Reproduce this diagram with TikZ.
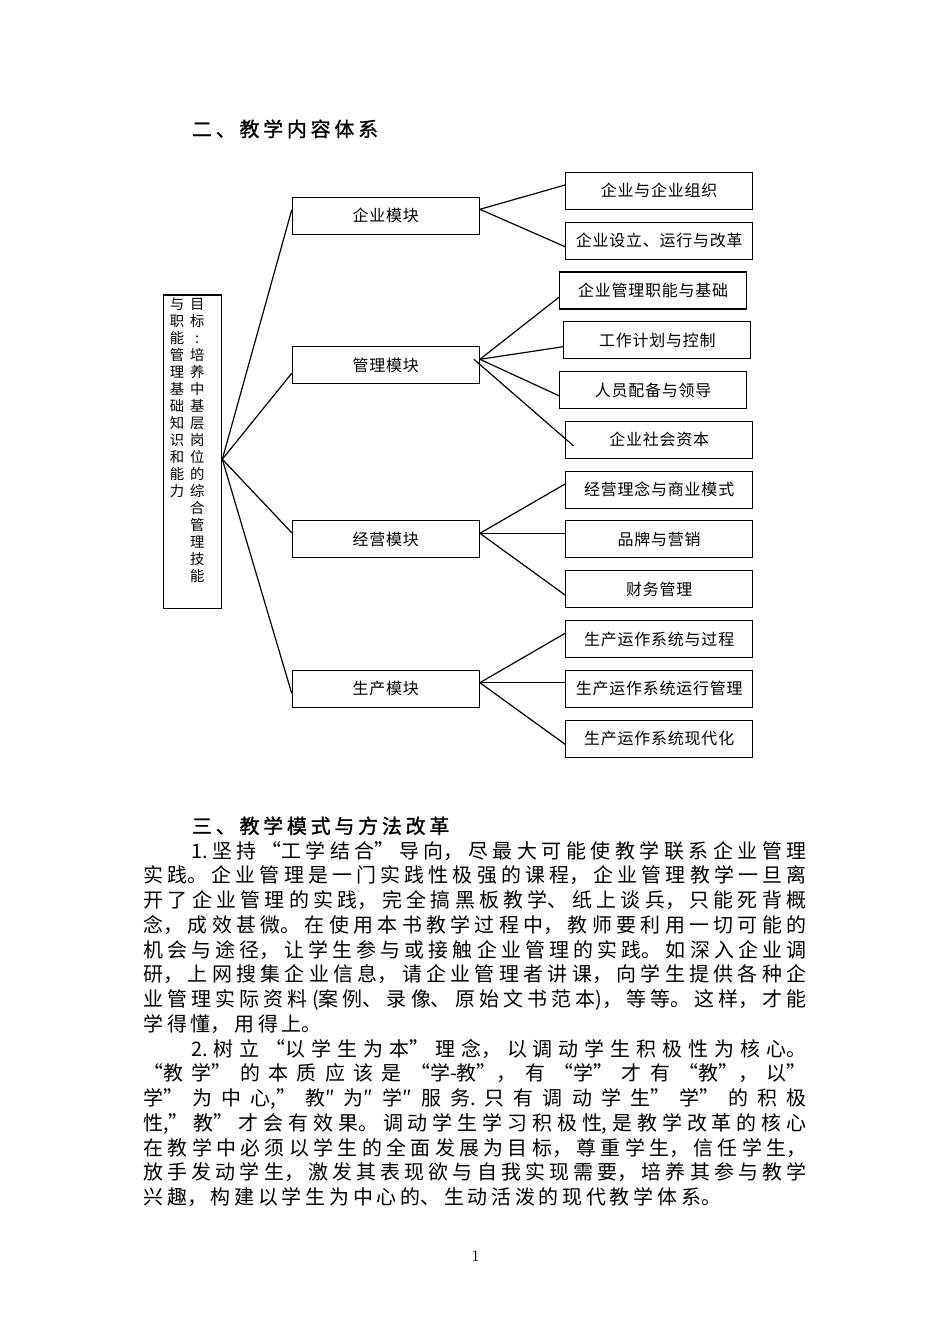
\documentclass[tikz,border=0pt]{standalone}
\usepackage{fontspec}
\newfontfamily\cjk{Noto Sans CJK SC}
\newfontfamily\cjkhead[LetterSpace=19,FakeBold=1.2]{Noto Sans CJK SC}
\newfontfamily\cjkbox[LetterSpace=5]{Noto Sans CJK SC}
\newlength{\px}\setlength{\px}{0.62661pt}
\tikzset{
  box/.style={draw, line width=0.75pt, minimum width=187\px, minimum height=37\px,
    inner sep=0pt, font=\cjkbox\fontsize{10pt}{12pt}\selectfont},
  link/.style={line width=0.75pt},
  plain/.style={inner sep=0pt, outer sep=0pt},
  headtext/.style={inner sep=0pt, outer sep=0pt, anchor=base west,
    font=\cjkhead\fontsize{12.5pt}{15pt}\selectfont},
}
\begin{document}
\begin{tikzpicture}[x=\px, y=-\px]
\path[fill=white, use as bounding box] (0,0) rectangle (950,1344);

% heading 二
\node[headtext] (h2) at (192,136.5) {二、教学内容体系};

% goal box
\node[draw, line width=0.75pt, minimum width=58.4\px, minimum height=313.3\px, inner sep=0pt]
  (goal) at (192.5,451.65) {};
\node[plain, anchor=base] (goalR) at (197.2,309.2)
  {\parbox[t]{20\px}{\centering\cjk\fontsize{9pt}{10.652pt}\selectfont
   目\\标\\:\\培\\养\\中\\基\\层\\岗\\位\\的\\综\\合\\管\\理\\技\\能}};
\node[plain, anchor=base] (goalL) at (177,309.2)
  {\parbox[t]{20\px}{\centering\cjk\fontsize{9pt}{10.652pt}\selectfont
   与\\职\\能\\管\\理\\基\\础\\知\\识\\和\\能\\力}};

% modules
\node[box] (qy) at (385.8,215.8) {企业模块};
\node[box] (gl) at (385.8,365.2) {管理模块};
\node[box] (jy) at (385.8,539.3) {经营模块};
\node[box] (sc) at (385.8,688.7) {生产模块};

% leaves
\node[box] (a1) at (659.2,190.8) {企业与企业组织};
\node[box] (a2) at (659.2,240.8) {企业设立、运行与改革};
\node[box] (b1) at (653.0,290.5) {企业管理职能与基础};
\node[box] (b2) at (657.3,340.3) {工作计划与控制};
\node[box] (b3) at (653.0,390.2) {人员配备与领导};
\node[box] (b4) at (659.2,439.6) {企业社会资本};
\node[box] (c1) at (659.2,489.7) {经营理念与商业模式};
\node[box] (c2) at (659.2,539.3) {品牌与营销};
\node[box] (c3) at (659.2,589.0) {财务管理};
\node[box] (d1) at (659.2,639.0) {生产运作系统与过程};
\node[box] (d2) at (659.2,688.7) {生产运作系统运行管理};
\node[box] (d3) at (659.2,738.7) {生产运作系统现代化};

% connectors from goal
\draw[link] ([yshift=-7.6\px]goal.east) -- ([yshift=5.8\px]qy.west);
\draw[link] ([yshift=-7.6\px]goal.east) -- ([yshift=-8.1\px]gl.west);
\draw[link] ([yshift=-7.6\px]goal.east) -- ([yshift=6.6\px]jy.west);
\draw[link] ([yshift=-7.6\px]goal.east) -- ([yshift=-4.6\px]sc.west);

% module -> leaves
\draw[link] ([yshift=6.5\px]qy.east) -- ([yshift=5.8\px]a1.west);
\draw[link] ([yshift=6.5\px]qy.east) -- ([yshift=-5.9\px]a2.west);

\draw[link] ([yshift=5.9\px]gl.east) -- ([yshift=-6.8\px]b1.west);
\draw[link] ([yshift=5.9\px]gl.east) -- ([yshift=-6.4\px]b2.west);
\draw[link] ([yshift=5.9\px]gl.east) -- ([yshift=-5.5\px]b3.west);
\draw[link] ([xshift=-6\px,yshift=5.9\px]gl.east) -- ([xshift=8.6\px,yshift=-6.4\px]b4.west);

\draw[link] ([yshift=6\px]jy.east) -- ([yshift=5.7\px]c1.west);
\draw[link] ([yshift=6\px]jy.east) -- ([yshift=6\px]c2.west);
\draw[link] ([yshift=6\px]jy.east) -- ([yshift=-6\px]c3.west);

\draw[link] ([yshift=6\px]sc.east) -- ([yshift=5.7\px]d1.west);
\draw[link] ([yshift=6\px]sc.east) -- ([yshift=6\px]d2.west);
\draw[link] ([yshift=6\px]sc.east) -- ([yshift=-5.6\px]d3.west);

% heading 三
\node[headtext] (h3) at (192,833.4) {三、教学模式与方法改革};

% body text
\node[plain, anchor=base west] (body) at (143.5,858.15)
{\parbox[t]{663\px}{\cjk\fontsize{12.5pt}{15.509pt}\selectfont
\XeTeXlinebreaklocale "zh"\XeTeXlinebreakskip=2.35pt plus 1fil\relax
\parfillskip=0pt plus 1fill\relax\parindent=0pt\relax
\noindent\hspace*{47.5\px}1.坚持“工学结合”导向，尽最大可能使教学联系企业管理\linebreak
实践。企业管理是一门实践性极强的课程，企业管理教学一旦离\linebreak
开了企业管理的实践，完全搞黑板教学、纸上谈兵，只能死背概\linebreak
念，成效甚微。在使用本书教学过程中，教师要利用一切可能的\linebreak
机会与途径，让学生参与或接触企业管理的实践。如深入企业调\linebreak
研，上网搜集企业信息，请企业管理者讲课，向学生提供各种企\linebreak
业管理实际资料(案例、录像、原始文书范本)，等等。这样，才能\linebreak
学得懂，用得上。\par
\noindent\hspace*{47.5\px}2.树立“以学生为本”理念，以调动学生积极性为核心。\linebreak
“教学”的本质应该是“学-教”，有“学”才有“教”，以”\linebreak
学”为中心,”教″为″学″服务.只有调动学生”学”的积极\linebreak
性,”教”才会有效果。调动学生学习积极性,是教学改革的核心\linebreak
在教学中必须以学生的全面发展为目标，尊重学生，信任学生，\linebreak
放手发动学生，激发其表现欲与自我实现需要，培养其参与教学\linebreak
兴趣，构建以学生为中心的、生动活泼的现代教学体系。\par}};

% page number
\node[plain, anchor=base] (pg) at (475.5,1261.7) {\fontsize{10pt}{12pt}\selectfont 1};
\end{tikzpicture}
\end{document}
